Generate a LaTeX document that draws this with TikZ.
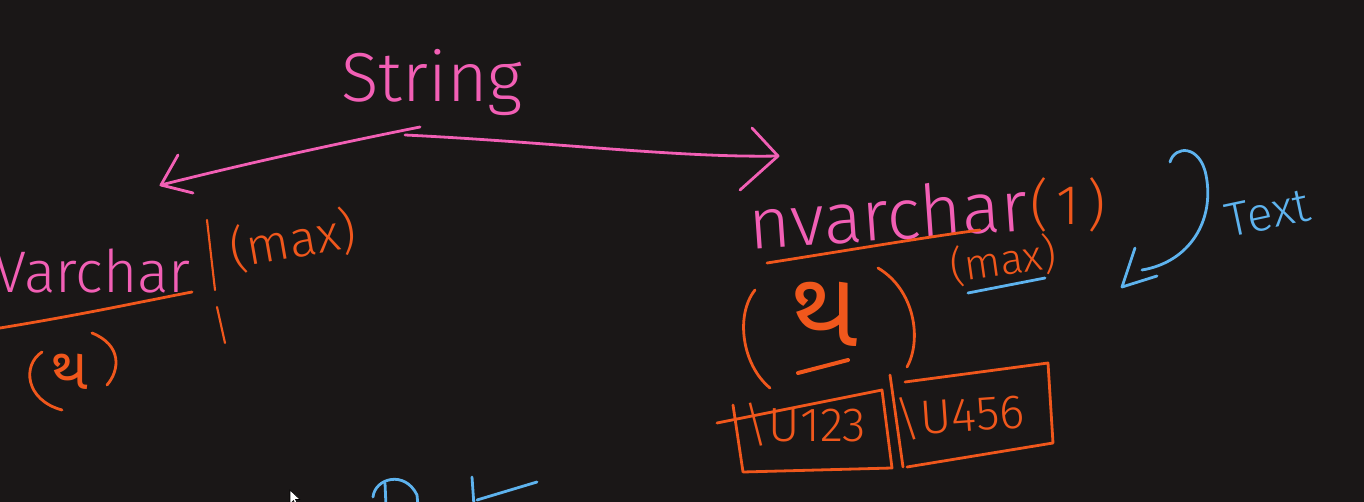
\documentclass[tikz,border=0pt]{standalone}
\usepackage{fontspec}
\newfontfamily\hand{Fira Sans Light}
\newfontfamily\guj[Script=Gujarati]{Noto Sans Gujarati UI}
\definecolor{bg}{HTML}{1A1717}
\definecolor{hpink}{HTML}{F25FB5}
\definecolor{horange}{HTML}{F0571C}
\definecolor{hblue}{HTML}{5EB3EE}
\tikzset{
  pen/.style={line width=2.1pt, line cap=round, line join=round},
  pk/.style={pen, draw=hpink},
  org/.style={pen, draw=horange},
  bl/.style={pen, draw=hblue},
  hw/.style={inner sep=0pt},
  pinktxt/.style={hw, text=hpink},
  orangetxt/.style={hw, text=horange},
  bluetxt/.style={hw, text=hblue}
}
\newcommand{\hsz}[1]{\hand\fontsize{#1}{#1}\selectfont}
\begin{document}
\begin{tikzpicture}[x=0.75pt,y=-0.75pt]
\fill[bg] (0,0) rectangle (1364,502);
\useasboundingbox (0,0) rectangle (1364,502);

% String and its two arrows
\node[pinktxt, font=\hsz{52}, anchor=base] (string) at (432,102) {String};
\coordinate (sl) at (420,127);
\coordinate (sr) at (405,135);
\coordinate (ltip) at (161,185);
\coordinate (rtip) at (778,156);
\draw[pk] (sl) .. controls (330,145) and (240,165) .. (ltip);
\draw[pk] (178,155) -- (ltip) -- (193,193);
\draw[pk] (sr) .. controls (550,142) and (680,158) .. (rtip);
\draw[pk] (752,128) -- (rtip) -- (740,190);

% Left: Varchar
\node[pinktxt, font=\hsz{44}, anchor=base west] (varchar) at (-6,293) {Varchar};
\draw[org] (0,328) .. controls (80,315) and (140,302) .. (192,292);
\draw[org, line width=1.6pt] (207,220) -- (215,290);
\draw[org, line width=1.6pt] (217,307) -- (225,343);
\node[orangetxt, font=\hsz{38}, rotate=10] (maxl) at (293,240) {(max)};
\draw[org] (42,352) .. controls (22,365) and (25,400) .. (62,410);
\draw[org] (92,333) .. controls (122,345) and (120,370) .. (107,385);
\node[hw, text=horange, font=\guj\fontsize{44}{44}\selectfont] (gl) at (70,372) {થ};

% Right: nvarchar
\node[pinktxt, font=\hsz{54}, anchor=base, rotate=4] (nvarchar) at (890,240) {nvarchar};
\draw[org] (767,263) .. controls (850,250) and (920,238) .. (980,230);
\node[orangetxt, font=\hsz{42}] (one) at (1068,205) {(\hspace{6pt}1\hspace{6pt})};
\node[orangetxt, font=\hsz{32}, rotate=8] (maxr) at (1003,260) {(max)};
\draw[bl] (968,293) -- (1045,278);

\draw[org] (755,290) .. controls (735,315) and (742,365) .. (770,388);
\draw[org] (878,268) .. controls (915,290) and (922,340) .. (907,367);
\node[hw, text=horange, font=\guj\fontsize{80}{80}\selectfont] (gr) at (825,314) {થ};
\draw[org, line width=3pt] (798,373) -- (848,360);

% Boxes
\draw[org] (717,423) -- (882,390) -- (892,468) -- (743,472) -- (733,405);
\node[orangetxt, font=\hsz{36}] (u1) at (805,425) {\textbackslash U123};
\draw[org] (890,375) -- (903,467);
\draw[org] (905,382) -- (1048,363) -- (1053,443) -- (907,467);
\node[orangetxt, font=\hsz{36}, rotate=4] (u2) at (960,415) {\textbackslash U456};

% Blue arrow and Text
\coordinate (btip) at (1122,287);
\draw[bl] (1170,162) .. controls (1175,145) and (1200,145) .. (1206,175)
          .. controls (1215,220) and (1190,262) .. (1142,270);
\draw[bl] (1135,248) -- (btip) -- (1157,276);
\node[bluetxt, font=\hsz{36}, rotate=12] (text) at (1268,213) {Text};

% partial blue strokes at bottom edge
\draw[bl] (385,483) -- (386,506);
\draw[bl] (373,497) .. controls (375,478) and (405,470) .. (417,495) -- (418,506);
\draw[bl] (472,477) -- (474,506);
\draw[bl] (537,482) -- (477,500);

% mouse cursor
\filldraw[fill=white, draw=black, line width=0.4pt]
  (290,490) -- (290,504) -- (293.5,500.5) -- (296,506) -- (298,505) -- (295.5,499.5) -- (300,499.5) -- cycle;
\end{tikzpicture}
\end{document}
